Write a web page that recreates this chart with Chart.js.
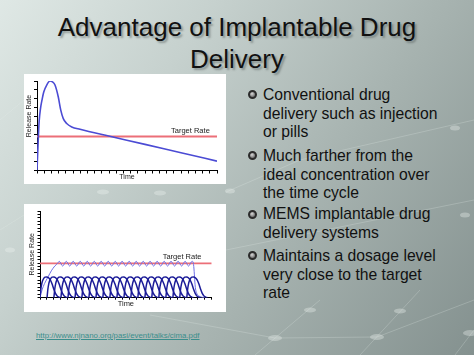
<!DOCTYPE html>
<html>
<head>
<meta charset="utf-8">
<script src="https://cdn.jsdelivr.net/npm/chart.js@4.4.1/dist/chart.umd.min.js"></script>
<style>
html,body{margin:0;padding:0;}
body{width:474px;height:355px;overflow:hidden;position:relative;font-family:"Liberation Sans",Arial,sans-serif;
 background:linear-gradient(125deg,#dfe8e5 0%,#c6d1ce 30%,#a7b3b0 62%,#84918f 100%);}
.deco{position:absolute;left:0;top:0;}
.title{position:absolute;left:0;top:11px;width:474px;text-align:center;font-size:26px;line-height:32px;color:#111;
 text-shadow:2px 2px 2px rgba(70,80,80,0.45);}
.panel{position:absolute;left:24px;width:202px;background:#fff;}
.panel canvas{position:absolute;left:0;top:0;}
.item{position:absolute;left:263px;font-size:15.7px;line-height:18.8px;color:#111;white-space:nowrap;}
.dot{position:absolute;left:247.5px;width:5px;height:5px;border-radius:50%;border:2px solid #2b2b2b;
 background:radial-gradient(circle at 40% 35%,#d8d8d8 0%,#8c8c8c 55%,#5a5a5a 100%);}
.url{position:absolute;left:36px;top:330.8px;font-size:7.85px;line-height:9px;color:#3b8e8c;text-decoration:underline;white-space:nowrap;}
</style>
</head>
<body>
<svg class="deco" width="474" height="355">
 <g stroke="#e6eeec" stroke-opacity="0.3" stroke-width="0.8" fill="none">
  <line x1="255" y1="355" x2="320" y2="300"/>
  <line x1="360" y1="355" x2="420" y2="290"/>
  <line x1="455" y1="355" x2="474" y2="330"/>
  <line x1="150" y1="315" x2="275" y2="338"/>
  <line x1="275" y1="338" x2="377" y2="337"/>
  <line x1="377" y1="337" x2="474" y2="300"/>
  <line x1="0" y1="230" x2="24" y2="215"/>
  <line x1="0" y1="120" x2="24" y2="100"/>
  <line x1="226" y1="192" x2="300" y2="160"/>
  <line x1="300" y1="160" x2="474" y2="120"/>
  <line x1="226" y1="250" x2="474" y2="200"/>
 </g>
 <g fill="#eef4f2" fill-opacity="0.35">
  <ellipse cx="275" cy="338" rx="7" ry="3"/>
  <ellipse cx="377" cy="337" rx="7" ry="3"/>
  <ellipse cx="470" cy="333" rx="7" ry="3"/>
  <ellipse cx="310" cy="310" rx="6" ry="2.5"/>
  <ellipse cx="400" cy="311" rx="6" ry="2.5"/>
  <ellipse cx="103" cy="192" rx="6" ry="2.5"/>
  <ellipse cx="160" cy="193" rx="6" ry="2.5"/>
  <ellipse cx="230" cy="191" rx="5" ry="2.5"/>
  <ellipse cx="465" cy="215" rx="5" ry="2.5"/>
  <ellipse cx="455" cy="128" rx="5" ry="2.5"/>
  <ellipse cx="10" cy="250" rx="5" ry="2.5"/>
 </g>
</svg>

<div class="title">Advantage of Implantable Drug<br>Delivery</div>

<div class="panel" style="top:74px;height:110px;"><canvas id="c1" width="202" height="110"></canvas></div>
<div class="panel" style="top:204px;height:108px;"><canvas id="c2" width="202" height="108"></canvas></div>

<div class="dot" style="top:90px;"></div>
<div class="item" style="top:85.9px;">Conventional drug<br>delivery such as injection<br>or pills</div>
<div class="dot" style="top:151px;"></div>
<div class="item" style="top:146.9px;">Much farther from the<br>ideal concentration over<br>the time cycle</div>
<div class="dot" style="top:209.5px;"></div>
<div class="item" style="top:205.2px;">MEMS implantable drug<br>delivery systems</div>
<div class="dot" style="top:251px;"></div>
<div class="item" style="top:246.9px;">Maintains a dosage level<br>very close to the target<br>rate</div>

<div class="url">http://www.njnano.org/pasi/event/talks/cima.pdf</div>

<script>
// ---------------- data ----------------
// Top chart: conventional delivery
const topTime    = [0, 0.6, 1.2, 2, 2.8, 3.8, 5.4, 7.2, 8.6, 10, 11.8, 13.2, 14.6, 16.5, 19.3, 23.9, 41, 60, 80, 100];
const topRelease = [0, 30, 55, 70, 79, 88, 95.5, 100, 99, 95.5, 82.4, 67.4, 58, 52.5, 48.7, 46, 38, 29.2, 19.8, 10.5];
const topTarget  = 38;

// Bottom chart: MEMS pulsed delivery
const pulseOffsets = [0, 0.5, 1, 1.5, 2.2, 3, 4, 5, 6, 7, 8, 9, 10, 11, 12];
const pulseShape   = [0, 10, 16, 19.5, 22.3, 23.7, 24, 23, 20.5, 16, 10, 5, 2, 0.7, 0];
const pulseStarts  = [0, 4.1, 8.1, 12.2, 16.3, 20.4, 24.4, 28.5, 32.6, 36.6, 40.7, 44.8,
                      48.9, 52.9, 57, 61.1, 65.1, 69.2, 73.3, 77.4, 81.4, 85.5];
const sumTime = [0, 1.2, 2.7, 4.7, 6.6, 8.6, 10.3,
  11.2, 13.2, 15.3, 17.3, 19.3, 21.4, 23.4, 25.5, 27.5, 29.5, 31.6, 33.6, 35.6, 37.7, 39.7,
  41.8, 43.8, 45.8, 47.8, 49.9, 51.9, 54, 56, 58, 60.1, 62.1, 64.1, 66.2, 68.2, 70.3, 72.3,
  74.3, 76.3, 78.4, 80.4, 82.5, 84.5, 86.5, 88.6,
  89.3, 89.8, 90.2, 90.6, 91.3, 92.5, 94, 96];
const sumRelease = [0, 9, 16.5, 24, 31, 36.5, 39.7,
  42, 36.5, 42, 36.5, 42, 36.5, 42, 36.5, 42, 36.5, 42, 36.5, 42, 36.5, 42,
  36.5, 42, 36.5, 42, 36.5, 42, 36.5, 42, 36.5, 42, 36.5, 42, 36.5, 42, 36.5, 42,
  36.5, 42, 36.5, 42, 36.5, 42, 36.5, 42,
  40, 30, 18, 10, 5, 2, 0.7, 0];
const bottomTarget = 39.6;

const axisMax = 100;
const targetText = 'Target Rate';

// ---------------- helpers ----------------
Chart.defaults.font.family = '"Liberation Sans", Arial, sans-serif';

const toPoints = (xs, ys) => xs.map((x, i) => ({x: x, y: ys[i]}));

function scaleCfg(step, tick) {
  return {
    type: 'linear', min: 0, max: axisMax,
    ticks: {display: false, stepSize: step, maxTicksLimit: 1000, autoSkip: false},
    grid: {drawOnChartArea: false, drawTicks: true, tickLength: tick, color: '#000', lineWidth: 1},
    border: {display: true, color: '#000', width: 1}
  };
}

const targetLabel = {
  id: 'targetLabel',
  afterDatasetsDraw(chart, args, opts) {
    const {ctx, scales: {x, y}} = chart;
    ctx.save();
    ctx.font = opts.size + 'px "Liberation Sans", Arial, sans-serif';
    ctx.fillStyle = '#222';
    ctx.textAlign = 'right';
    ctx.textBaseline = 'middle';
    ctx.fillText(targetText, x.getPixelForValue(opts.xEnd), y.getPixelForValue(opts.value) - opts.lift);
    ctx.restore();
  }
};

// ---------------- top chart ----------------
const xs1 = scaleCfg(4, 3);
xs1.title = {display: true, text: 'Time', color: '#222', font: {size: 7}, padding: {top: 0, bottom: 2.5}};
xs1.afterFit = s => { s.height = 13.5; };
const ys1 = scaleCfg(10, 3);
ys1.title = {display: true, text: '          Release Rate', color: '#222', font: {size: 7}, padding: {top: 1, bottom: 0}};
ys1.afterFit = s => { s.width = 13; };

new Chart(document.getElementById('c1'), {
  type: 'line',
  data: {datasets: [
    {data: toPoints(topTime, topRelease), borderColor: '#4b4bd4', borderWidth: 1.6, pointRadius: 0,
     cubicInterpolationMode: 'monotone'},
    {data: [{x: 0, y: topTarget}, {x: axisMax, y: topTarget}], borderColor: '#ec6f78', borderWidth: 2, pointRadius: 0}
  ]},
  options: {
    responsive: false, animation: false, events: [],
    layout: {padding: {top: 7, right: 9, left: 0, bottom: 0}},
    plugins: {legend: {display: false}, tooltip: {enabled: false},
      targetLabel: {value: topTarget, xEnd: 96, lift: 5.5, size: 7.5}},
    scales: {x: xs1, y: ys1}
  },
  plugins: [targetLabel]
});

// ---------------- bottom chart ----------------
const pulseSets = pulseStarts.map(s => ({
  data: pulseOffsets.map((o, i) => ({x: s + o, y: pulseShape[i]})),
  borderColor: '#1c1c98', borderWidth: 1.5, pointRadius: 0, cubicInterpolationMode: 'monotone'
}));

const xs2 = scaleCfg(4, 2);
xs2.title = {display: true, text: 'Time', color: '#222', font: {size: 7.5}, padding: {top: 0, bottom: 3.5}};
xs2.afterFit = s => { s.height = 14.3; };
const ys2 = scaleCfg(4, 2.5);
ys2.title = {display: true, text: 'Release Rate', color: '#222', font: {size: 7}, padding: {top: 4, bottom: 0}};
ys2.afterFit = s => { s.width = 16; };

new Chart(document.getElementById('c2'), {
  type: 'line',
  data: {datasets: pulseSets.concat([
    {data: toPoints(sumTime, sumRelease), borderColor: '#6f6fe6', borderWidth: 1, pointRadius: 0,
     cubicInterpolationMode: 'monotone'},
    {data: [{x: 0, y: bottomTarget}, {x: axisMax, y: bottomTarget}], borderColor: '#ec6f78', borderWidth: 1.8, pointRadius: 0}
  ])},
  options: {
    responsive: false, animation: false, events: [],
    layout: {padding: {top: 7, right: 14.3, left: 0, bottom: 0}},
    plugins: {legend: {display: false}, tooltip: {enabled: false},
      targetLabel: {value: bottomTarget, xEnd: 94, lift: 6.4, size: 7.5}},
    scales: {x: xs2, y: ys2}
  },
  plugins: [targetLabel]
});
</script>
</body>
</html>
